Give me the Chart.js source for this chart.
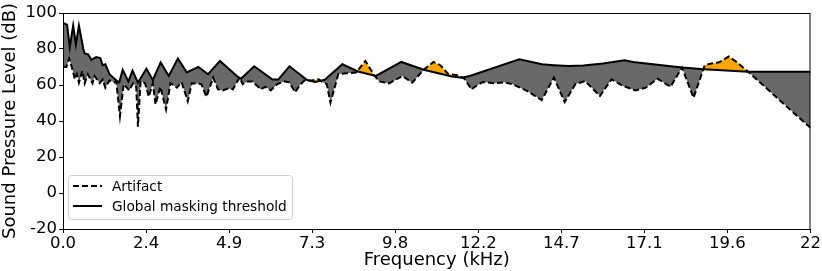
<!DOCTYPE html>
<html>

<head>
  <meta charset="utf-8">
  <title>Artifact vs masking threshold</title>
  <style>
    html, body {
      margin: 0;
      padding: 0;
      background: #fff;
    }

    .wrap {
      position: relative;
      width: 822px;
      height: 271px;
    }
  </style>
</head>

<body>
  <div class="wrap">
    <canvas id="spl-chart" width="822" height="271"></canvas>
  </div>

  <script src="https://cdn.jsdelivr.net/npm/chart.js"></script>

  <script>
    // x ticks (kHz) and the labels printed under them
    const freqTicks = [0, 2.45, 4.9, 7.35, 9.8, 12.25, 14.7, 17.15, 19.6, 22.05];
    const freqTickLabels = ['0.0', '2.4', '4.9', '7.3', '9.8', '12.2', '14.7', '17.1', '19.6', '22'];
    const dbTicks = [-20, 0, 20, 40, 60, 80, 100];

    // global masking threshold (solid)
    const thresholdFreq = [0, 0.12, 0.2, 0.3, 0.38, 0.47, 0.6, 0.64, 0.74, 0.84, 0.98, 1.1, 1.17, 1.25, 1.37,
      1.61, 1.66, 1.76, 1.93, 2.05, 2.21, 2.46, 2.65, 2.88, 3.12, 3.39, 3.65, 3.99, 4.28, 4.63, 5.16, 5.25,
      5.64, 6.18, 6.35, 6.68, 7.2, 7.44, 7.73, 8.24, 8.7, 9.23, 9.98, 10.64, 11.47, 11.76, 12.0, 13.46,
      14.13, 14.48, 14.91, 15.35, 15.93, 16.57, 16.81, 18.26, 18.9, 20.21, 22.05];
    const thresholdDb = [94.5, 93.5, 81, 93, 82.5, 93, 80, 77.5, 77, 74, 75.5, 75, 71, 71.5, 66,
      62, 61.5, 68.5, 62, 68, 61.3, 69, 62.8, 72.5, 65, 74.7, 67, 70, 66, 73.4, 64.5, 63.5,
      70.4, 63, 63, 70.4, 62.8, 61.7, 63, 71.5, 67.5, 65, 72.8, 68.5, 64.7, 64, 65, 74.3,
      71.5, 71, 70.5, 70.8, 72, 73.8, 72.8, 69.7, 68.7, 67.3, 67.3];

    // artifact spectrum (dashed)
    const artifactFreq = [0, 0.1, 0.18, 0.26, 0.35, 0.41, 0.47, 0.57, 0.64, 0.73, 0.87, 0.93, 1.08, 1.17,
      1.25, 1.37, 1.52, 1.57, 1.68, 1.79, 1.95, 2.07, 2.16, 2.21, 2.29, 2.42, 2.53, 2.65, 2.73, 2.87,
      3.04, 3.17, 3.36, 3.5, 3.68, 3.8, 4.08, 4.23, 4.43, 4.57, 4.72, 4.86, 5.01, 5.21, 5.3, 5.45,
      5.59, 5.83, 5.97, 6.13, 6.32, 6.53, 6.67, 6.85, 6.99, 7.12, 7.34, 7.54, 7.66, 7.78, 7.89,
      8.12, 8.36, 8.65, 8.92, 9.18, 9.33, 9.62, 10.01, 10.3, 10.64, 10.93, 11.13, 11.37, 11.66,
      11.84, 12.05, 12.15, 12.39, 12.73, 13.02, 13.26, 13.7, 14.12, 14.48, 14.8, 15.11, 15.4,
      15.84, 16.18, 16.52, 16.89, 17.19, 17.54, 17.92, 18.26, 18.6, 18.93, 19.14, 19.34, 19.64,
      19.89, 20.21, 22.05];
    const artifactDb = [70.2, 70, 74.7, 70, 63.2, 66, 61.3, 67.8, 60.9, 66, 61, 65, 61, 63,
      58.5, 62.5, 61.5, 62, 42.7, 60.5, 57, 61, 59, 36.8, 62.2, 61, 53.5, 61, 49.2, 59,
      46.4, 61, 58.5, 61.5, 51, 61, 60.5, 53.5, 64.1, 57.6, 57, 58, 57.6, 64.1, 60.5, 62,
      62, 57.6, 59, 57, 60.5, 62, 61.5, 56, 60, 62.5, 62.5, 63.2, 61.5, 60.5, 50.2,
      66, 66.5, 66.9, 73.4, 65.4, 62, 60.9, 65, 61.3, 68.5, 72.8, 71, 66, 65.4,
      63.5, 57.6, 59, 61.7, 61, 61.5, 60.4, 56.6, 51.6, 64.1, 50.5, 60.4, 62.2,
      53.9, 63.2, 59.5, 57, 58.5, 63.5, 59, 69.7, 52.9, 71, 72, 72.5, 75.8,
      72.5, 67.3, 36.2];

    const FONT = 'DejaVu Sans';

    // box round the plot + the legend inside it
    const framePlugin = {
      id: 'frame',
      afterDraw(chart) {
        const { ctx, chartArea: a } = chart;
        ctx.save();
        ctx.strokeStyle = '#000';
        ctx.lineWidth = 1;
        ctx.strokeRect(a.left + 0.5, a.top + 0.5, a.right - a.left - 1, a.bottom - a.top);

        // legend
        const bx = 68.5, by = 175.5, bw = 224, bh = 44, r = 3;
        ctx.beginPath();
        ctx.moveTo(bx + r, by);
        ctx.arcTo(bx + bw, by, bx + bw, by + bh, r);
        ctx.arcTo(bx + bw, by + bh, bx, by + bh, r);
        ctx.arcTo(bx, by + bh, bx, by, r);
        ctx.arcTo(bx, by, bx + bw, by, r);
        ctx.closePath();
        ctx.fillStyle = 'rgba(255,255,255,0.8)';
        ctx.fill();
        ctx.strokeStyle = '#d0d0d0';
        ctx.stroke();

        ctx.strokeStyle = '#000';
        ctx.lineWidth = 2;
        ctx.setLineDash([6, 3]);
        ctx.beginPath();
        ctx.moveTo(73, 186);
        ctx.lineTo(102, 186);
        ctx.stroke();
        ctx.setLineDash([]);
        ctx.beginPath();
        ctx.moveTo(73, 206);
        ctx.lineTo(102, 206);
        ctx.stroke();

        ctx.fillStyle = '#000';
        ctx.font = '13.7px "' + FONT + '"';
        ctx.textBaseline = 'middle';
        ctx.fillText('Artifact', 112, 187);
        ctx.fillText('Global masking threshold', 112, 207);
        ctx.restore();
      }
    };

    const chart = new Chart(document.getElementById('spl-chart'), {
      type: 'line',
      data: {
        datasets: [{
          label: 'Artifact',
          data: artifactFreq.map((f, i) => ({ x: f, y: artifactDb[i] })),
          borderColor: '#000',
          borderWidth: 2,
          borderDash: [6, 3],
          pointRadius: 0,
          tension: 0,
          fill: { target: 1, above: '#ffa500', below: '#696969' }
        }, {
          label: 'Global masking threshold',
          data: thresholdFreq.map((f, i) => ({ x: f, y: thresholdDb[i] })),
          borderColor: '#000',
          borderWidth: 2,
          pointRadius: 0,
          tension: 0,
          fill: false
        }]
      },
      options: {
        responsive: false,
        animation: false,
        layout: { autoPadding: false, padding: { top: 13, right: 2, left: 0, bottom: 0 } },
        plugins: {
          legend: { display: false },
          tooltip: { enabled: false },
          filler: { drawTime: 'beforeDatasetsDraw' }
        },
        scales: {
          x: {
            type: 'linear',
            min: 0,
            max: 22.05,
            afterBuildTicks: (s) => { s.ticks = freqTicks.map(v => ({ value: v })); },
            afterFit: (s) => { s.height = 42; },
            grid: { drawOnChartArea: false, tickLength: 4, color: '#000' },
            border: { color: '#000', width: 1 },
            ticks: {
              color: '#000',
              padding: 1,
              maxRotation: 0,
              autoSkip: false,
              font: { family: FONT, size: 16.5 },
              callback: (v, i) => freqTickLabels[i]
            },
            title: {
              display: true,
              text: 'Frequency (kHz)',
              color: '#000',
              font: { family: FONT, size: 18 },
              padding: { top: 0, bottom: 0 }
            }
          },
          y: {
            min: -20,
            max: 100,
            afterBuildTicks: (s) => { s.ticks = dbTicks.map(v => ({ value: v })); },
            afterFit: (s) => { s.width = 63; },
            grid: { drawOnChartArea: false, tickLength: 4, color: '#000' },
            border: { color: '#000', width: 1 },
            ticks: {
              color: '#000',
              padding: 2,
              font: { family: FONT, size: 16.5 }
            },
            title: {
              display: true,
              text: 'Sound Pressure Level (dB)',
              color: '#000',
              font: { family: FONT, size: 18 },
              padding: { top: 0, bottom: 0 }
            }
          }
        }
      },
      plugins: [framePlugin]
    });
  </script>
</body>

</html>
